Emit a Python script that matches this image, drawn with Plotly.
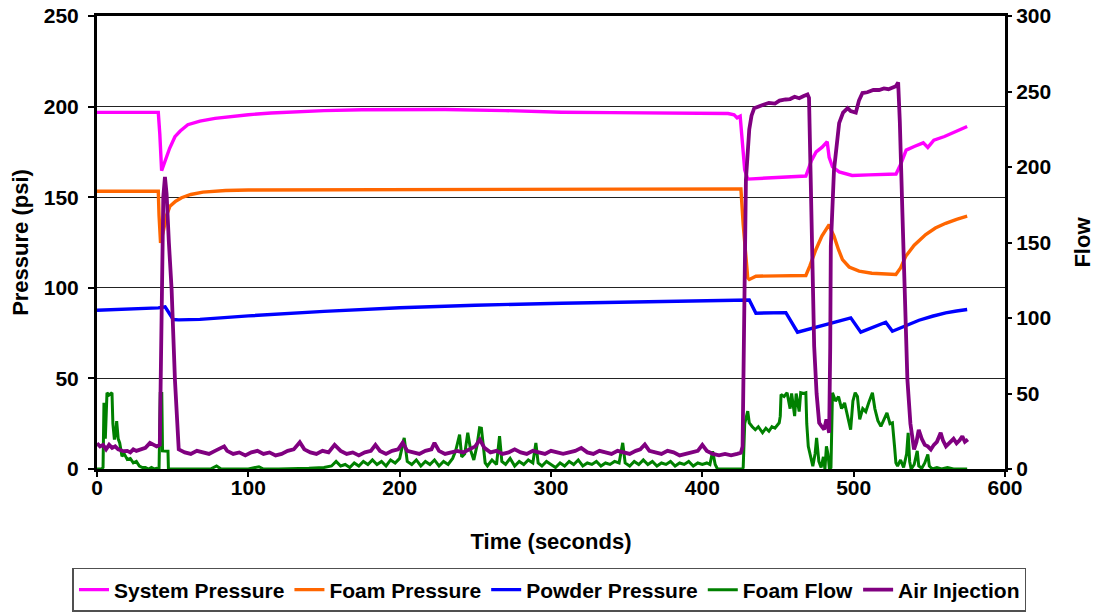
import plotly.graph_objects as go

# ---------------- data ----------------
time_ticks = [0, 100, 200, 300, 400, 500, 600]
pressure_ticks = [0, 50, 100, 150, 200, 250]
flow_ticks = [0, 50, 100, 150, 200, 250, 300]

# (time s, pressure psi)
system_pressure = [
    (0, 196.8), (10, 196.9), (20, 196.7), (30, 196.8), (40.5, 196.8), (41.5, 185), (42.7, 164.7),
    (45, 170), (48, 177), (51.5, 183.4), (55, 186.5), (60, 190), (68, 192), (78, 193.5), (87, 194.5),
    (100, 195.5), (115, 196.5), (131, 197.2), (150, 197.8), (175, 198.3), (197, 198.5), (230, 198.4),
    (270, 197.8), (307, 196.9), (340, 196.7), (380, 196.4), (417, 196.2), (421, 195.5), (423, 193.8),
    (425, 194.7), (426.5, 180), (428, 165), (430, 160), (440, 160.5), (455, 161), (468.4, 161.7),
    (472, 170), (475.2, 175), (479, 177.5), (482.5, 180.6), (483.8, 172), (486, 166.8), (490.4, 164),
    (495, 163), (499, 162), (510, 162.3), (520, 162.5), (528, 162.8), (531, 168), (534.7, 176),
    (540, 178), (546, 180), (549, 177.5), (553, 181.5), (560, 183.5), (568, 186.5), (575, 189),
]

foam_pressure = [
    (0, 153.3), (20, 153.4), (40.5, 153.3), (41, 140), (42, 124.8), (44, 132), (46, 140), (48.2, 145),
    (52, 147.8), (55.9, 149.7), (62, 151.5), (70, 152.8), (75.7, 153.3), (85, 153.7), (100, 154),
    (150, 154.1), (200, 154), (250, 154.1), (300, 154.2), (350, 154.2), (400, 154.5), (420, 154.8),
    (425.5, 154.6), (427, 135), (429, 112), (430, 105.5), (431, 104.6), (435.4, 106.4), (450, 106.6),
    (468.4, 106.8), (471, 112), (475, 121), (479, 128.5), (483.8, 134.9), (485, 132), (487, 128.5),
    (490, 121), (492.6, 115.6), (497, 111.5), (503.6, 109.2), (512, 108), (520, 107.5), (527.9, 107.3),
    (531, 111), (534.4, 117.4), (540, 123.5), (547.6, 129.4), (554, 133), (560.8, 135.6),
    (568, 137.8), (575, 139.5),
]

powder_pressure = [
    (0, 87.6), (20, 88.2), (40.5, 88.9), (45, 89.5), (50.4, 82.5), (54, 82.3), (68, 82.6),
    (100, 84.5), (150, 87), (200, 89), (250, 90.4), (307, 91.5), (350, 92.2), (400, 92.8),
    (425, 93.2), (431, 93.3), (435.4, 86), (455.2, 86.3), (462.9, 75.5), (480, 79.5), (498.1, 83.4),
    (504.7, 75.5), (521.2, 81), (525.6, 76), (543.2, 82.1), (552, 84.3), (560.8, 86.2), (568, 87.2),
    (575, 88),
]

# (time s, flow)
foam_flow = [
    (0, 0), (3, 0), (4, 1), (4.6, 43.8), (5.5, 20), (6.6, 50.5), (8, 49), (9.9, 50.5), (10.5, 30),
    (11.5, 19.5), (12.5, 25), (13, 31.7), (14, 20), (15, 17.3), (16.5, 8.5), (18, 10), (20, 6.3),
    (22, 7), (24, 4.1), (26, 5), (28, 2), (30, 1), (32, 1), (34, 0), (36, 1), (38, 0), (39.4, 0.5),
    (41, 0), (41.8, 50), (42.8, 50), (43.3, 12), (45, 11.8), (46.9, 11.8), (47.2, 0),
    (52, 0), (56, 0.5), (60, 0), (65, 0), (70, 0), (75, 0), (79, 2), (82, 0), (88, 0), (95, 0),
    (100, 0), (107, 1.5), (110, 0), (120, 0), (130, 0), (140, 0.5), (150, 1), (155, 2), (158, 5),
    (161, 2), (164, 3), (167, 1), (170, 4), (173, 2), (176, 5), (179, 3), (182, 6), (185, 3),
    (188, 5), (191, 2), (194, 6), (197, 4), (200, 7), (203, 20.6), (205, 5), (208, 3), (211, 6),
    (214, 2), (217, 5), (220, 3), (223, 6), (226, 2), (229, 5), (232, 3), (235, 7), (237, 12),
    (239.6, 22.8), (241, 8), (243, 10), (245, 24), (247, 12), (249, 6), (251, 15), (252.8, 27.3),
    (254, 27), (255, 18), (256.5, 4), (258, 2), (261, 6), (264, 3), (266, 21.7), (267.5, 5),
    (270, 3), (273, 7), (276, 2), (279, 5), (282, 3), (285, 6), (288, 4), (290, 17.3), (291.5, 4),
    (294, 2), (297, 5), (300, 3), (303, 1), (306, 4), (309, 2), (312, 5), (315, 3), (318, 6),
    (321, 2), (324, 4), (327, 3), (330, 5), (333, 2), (336, 4), (339, 3), (342, 5), (345, 4),
    (347.4, 17.3), (349, 4), (352, 2), (355, 5), (358, 3), (361, 6), (364, 3), (367, 5), (370, 2),
    (373, 4), (376, 3), (379, 5), (382, 2), (385, 4), (388, 3), (391, 5), (394, 2), (397, 4),
    (400, 3), (403, 4), (405, 3), (406.8, 11.8), (408.5, 3), (410, 0), (415, 0), (420, 0),
    (426.6, 0), (427, 1), (428, 30), (430, 38.3), (431, 30.6), (433, 28), (435, 26), (437, 28),
    (439.8, 24), (442, 27), (444, 25), (446, 28), (448, 27), (450.8, 30.6), (451.5, 35),
    (452, 49.3), (454, 48), (456, 50.5), (458, 40), (459, 50), (461, 35), (462, 50), (464, 38),
    (465, 50.5), (467, 50), (468.4, 50.5), (469, 30), (470, 15), (471.5, 8), (473, 1.9),
    (474.5, 10), (475.5, 20.6), (477, 5), (478.5, 1), (480, 8), (481, 0), (482, 15), (483, 10),
    (484, 0), (485, 1), (486, 50.5), (488, 45), (490, 48), (492, 40), (494, 43.8), (496, 35),
    (498, 26), (499.5, 45), (501, 50.5), (502.5, 48), (504, 32.8), (506, 40), (508, 38),
    (510, 44), (512.4, 50.5), (514, 40), (516, 32), (518, 28.3), (520, 33), (522, 37.2),
    (524, 30), (525.6, 30.6), (527, 15), (527.9, 4.1), (529, 2), (531, 6), (533, 1), (535, 10),
    (536, 24), (537, 5), (538, 0), (540, 3), (542, 12), (543, 2), (545, 0.5), (547, 4),
    (549, 9.6), (550, 2), (552, 0), (555, 1), (558, 0), (562, 1), (566, 0), (570, 0), (575, 0),
]

air_injection = [
    (0, 17), (2, 15), (4, 16), (6, 13), (8, 16), (10, 14), (12, 15), (14, 13), (17.4, 11.8),
    (20, 12), (22, 11), (24, 13), (26, 12), (28.4, 12.9), (30, 13), (32, 14), (35, 17.3), (37, 16),
    (39.4, 15), (41.5, 16), (42.7, 119), (43.8, 180), (44.9, 193.5), (46, 182), (47.5, 150),
    (49.3, 119), (51.5, 59), (53, 25), (54, 13),
    (58, 11), (62, 10), (66, 12), (70, 11), (74, 10), (78, 12), (82, 14), (84, 15), (86, 12),
    (90, 10), (94, 11), (98, 9), (102, 11), (106, 12), (110, 10), (114, 11), (118, 9), (122, 10),
    (126, 12), (130, 13), (134, 17.7), (137, 13), (141, 11), (145, 10), (149, 12), (153, 11),
    (157, 16), (161, 12), (165, 10), (169, 11), (173, 9), (177, 11), (181, 12), (184, 16),
    (187, 12), (191, 10), (195, 12), (199, 13), (202, 17.5), (205, 12), (209, 11), (213, 10),
    (217, 12), (221, 13), (223, 17.3), (226, 12), (230, 10), (234, 11), (238, 12), (242, 11),
    (246, 13), (250, 15), (253, 19.5), (256, 14), (260, 11), (264, 12), (268, 10), (272, 11),
    (276, 13), (280, 11), (284, 10), (288, 12), (292, 11), (296, 10), (300, 12), (304, 11),
    (308, 10), (312, 11), (316, 12), (320, 14), (324, 11), (328, 10), (332, 12), (336, 11),
    (340, 10), (344, 12), (348, 11), (352, 10), (356, 12), (359, 13), (362, 16.2), (365, 12),
    (369, 11), (373, 10), (377, 12), (381, 11), (385, 9), (389, 10), (393, 11), (397, 12),
    (400, 16), (403, 12), (407, 10), (411, 9), (415, 10), (419, 9), (423, 10), (425.5, 10.7),
    (426.6, 15), (428, 120), (428.8, 191.7), (431, 224.8), (432.5, 234), (434.3, 239), (437, 240),
    (440, 241.5), (444, 242.5), (448, 242), (451, 244), (455, 244.7), (458, 245), (461, 246.5),
    (464, 245.5), (467, 247), (469.5, 248), (470.5, 245.8), (471.5, 200), (472.5, 140),
    (473.9, 81.3), (475.5, 50), (477.2, 30.6), (479, 28), (480.5, 26.2), (482, 32.8), (483.8, 24),
    (484.5, 80), (484.9, 147.5), (487, 198), (490.4, 229), (493, 236), (496, 239), (498, 237),
    (501.4, 236), (503.5, 244), (505.8, 249), (509, 249.5), (513, 251), (516.8, 251), (520, 252),
    (523, 251.5), (526, 253), (527.9, 253.5), (529.4, 256), (530.5, 230), (532.2, 169.7),
    (534, 110), (535.5, 59.3), (537.5, 30), (539.9, 12.9), (541.5, 18), (543, 26), (545, 20),
    (547, 16), (549, 15), (551, 12.9), (553, 16), (555, 18), (557.5, 24), (559, 19), (561, 15),
    (563, 17), (566, 20), (568, 17), (570, 19), (571.8, 21.7), (573.5, 18), (575.5, 19.5),
]

# ---------------- figure ----------------
FONT = "Liberation Sans, Arial, sans-serif"
fig = go.Figure()


def add(name, data, color, axis, width=3.0):
    t, v = zip(*data)
    fig.add_trace(go.Scatter(x=list(t), y=list(v), name=name, mode="lines",
                             line=dict(color=color, width=width), yaxis=axis))


add("System Pressure", system_pressure, "#FF00FF", "y", 3.4)
add("Foam Pressure", foam_pressure, "#FF6600", "y", 3.4)
add("Powder Pressure", powder_pressure, "#0000FF", "y", 3.4)
add("Foam Flow", foam_flow, "#008000", "y2", 3.0)
add("Air Injection", air_injection, "#800080", "y2", 3.8)

tickfont = dict(family=FONT, size=21, color="black", weight="bold")
titlefont = dict(family=FONT, size=22, color="black", weight="bold")

fig.update_layout(
    width=1099, height=613,
    margin=dict(l=97, r=94, t=16, b=144, autoexpand=False),
    paper_bgcolor="white", plot_bgcolor="white",
    font=dict(family=FONT, size=21, color="black", weight="bold"),
    legend=dict(orientation="h", x=-0.027, xanchor="left", y=-0.2185, yanchor="top",
                bordercolor="#505050", borderwidth=1.5, bgcolor="white",
                font=dict(family=FONT, size=21, color="black", weight="bold"),
                itemwidth=30, tracegroupgap=0),
    xaxis=dict(range=[0, 600], tickvals=time_ticks, ticks="outside", ticklen=5,
               tickwidth=1.5, tickcolor="black", showline=True, linewidth=3,
               linecolor="black", mirror=True, showgrid=False, zeroline=False,
               tickfont=tickfont, automargin=False, ticklabelstandoff=-7,
               title=dict(text="Time (seconds)", font=titlefont, standoff=36)),
    yaxis=dict(range=[0, 250], tickvals=pressure_ticks, ticks="outside", ticklen=6,
               tickwidth=1.5, tickcolor="black", showline=True, linewidth=3,
               linecolor="black", mirror=True, showgrid=True, gridcolor="#222222",
               gridwidth=1, zeroline=False, tickfont=tickfont, automargin=False,
               ticklabelstandoff=5,
               title=dict(text="Pressure (psi)", font=titlefont, standoff=10)),
    yaxis2=dict(range=[0, 300], tickvals=flow_ticks, overlaying="y", side="right",
                ticks="outside", ticklen=6, tickwidth=1.5, tickcolor="black",
                showline=False, showgrid=False, zeroline=False, tickfont=tickfont,
                automargin=False,
                title=dict(text="Flow", font=titlefont, standoff=24)),
)

# the default page body has an 8 px margin; remove it so the figure sits at (0, 0)
fig.write_html("out.html", config={"displayModeBar": False},
               post_script="document.body.style.margin='0px';")
